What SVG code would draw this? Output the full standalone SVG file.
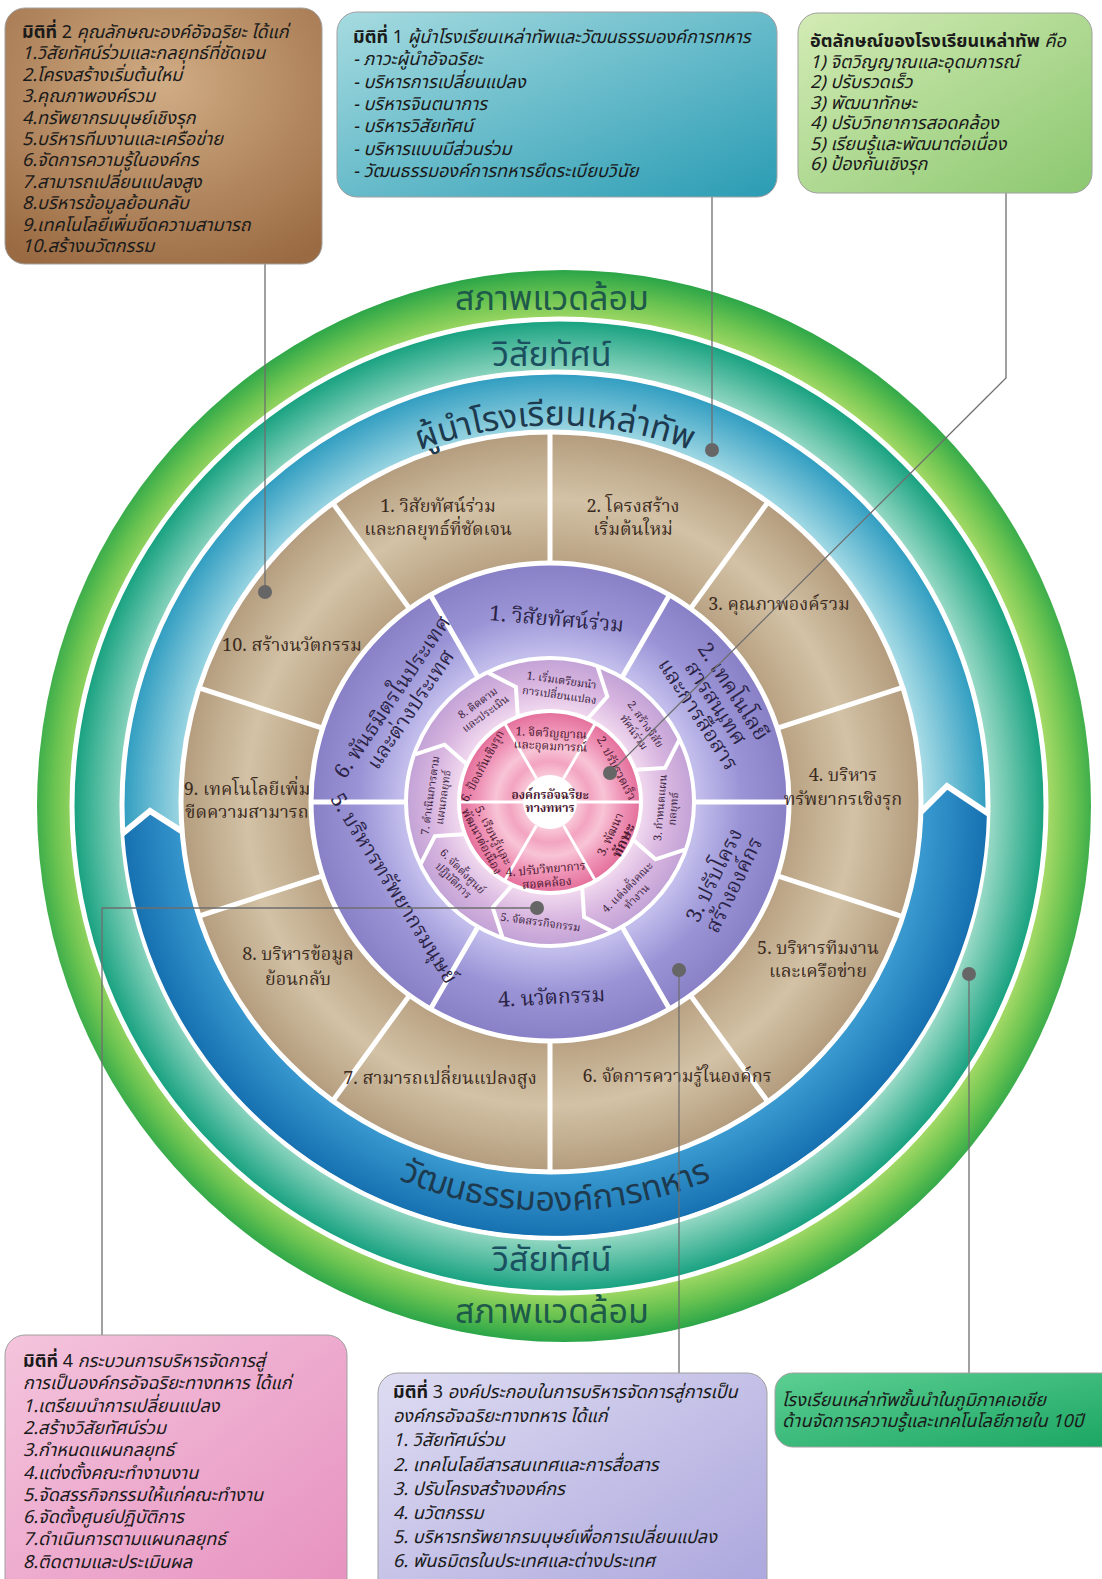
<svg xmlns="http://www.w3.org/2000/svg" width="1102" height="1579" viewBox="0 0 1102 1579">
<defs>
<style>
.bt{font-family:'Noto Sans Thai','Noto Sans','DejaVu Sans',sans-serif;font-size:18px;fill:#1a1a1a;font-style:italic}
.b{font-weight:bold;font-style:normal}
.n{font-style:normal}
.ring{font-family:'Noto Sans Thai','Noto Sans','DejaVu Sans',sans-serif;font-size:34px;text-anchor:middle}
.lb{font-family:'Noto Serif Thai','Noto Sans Thai','Liberation Serif',serif;font-size:18px;fill:#3b2b1e;text-anchor:middle}
.lp{font-family:'Noto Serif Thai','Noto Sans Thai','Liberation Serif',serif;font-size:21px;fill:#2b2346;text-anchor:middle}
.lk{font-family:'Noto Serif Thai','Noto Sans Thai','Liberation Serif',serif;font-size:11px;fill:#3a2340;text-anchor:middle}
.lc{font-family:'Noto Serif Thai','Noto Sans Thai','Liberation Serif',serif;font-size:12px;fill:#4a1830;text-anchor:middle}
.div{stroke:#fff;fill:none;stroke-linecap:butt}
.con{stroke:#6e6e6e;stroke-width:1.3;fill:none}
.dot{fill:#666}
.box{stroke:#a0a0a0;stroke-width:1}
</style>
<radialGradient id="gGreen" gradientUnits="userSpaceOnUse" cx="564" cy="806" r="536"><stop offset="0.9" stop-color="#a9db68"/><stop offset="0.95" stop-color="#6cc451"/><stop offset="1" stop-color="#2aa548"/></radialGradient>
<radialGradient id="gTeal" gradientUnits="userSpaceOnUse" cx="559" cy="806" r="487"><stop offset="0.88" stop-color="#9edcc8"/><stop offset="1" stop-color="#14a07e"/></radialGradient>
<radialGradient id="gBlueL" gradientUnits="userSpaceOnUse" cx="555" cy="805" r="433"><stop offset="0.85" stop-color="#a8dce6"/><stop offset="1" stop-color="#2e9cc0"/></radialGradient>
<radialGradient id="gBlueD" gradientUnits="userSpaceOnUse" cx="555" cy="805" r="433"><stop offset="0.85" stop-color="#3a9ad0"/><stop offset="1" stop-color="#1670b0"/></radialGradient>
<radialGradient id="gBrown" gradientUnits="userSpaceOnUse" cx="550" cy="802" r="370"><stop offset="0.65" stop-color="#b9a283"/><stop offset="0.82" stop-color="#d3c2a6"/><stop offset="1" stop-color="#b39c7d"/></radialGradient>
<radialGradient id="gPurple" gradientUnits="userSpaceOnUse" cx="550" cy="802" r="239"><stop offset="0.6" stop-color="#c6c2ee"/><stop offset="0.8" stop-color="#9a94d6"/><stop offset="1" stop-color="#8880c6"/></radialGradient>
<radialGradient id="gLpink" gradientUnits="userSpaceOnUse" cx="550" cy="802" r="144"><stop offset="0.62" stop-color="#f3dcf0"/><stop offset="0.82" stop-color="#d8b6e0"/><stop offset="1" stop-color="#c2a2d6"/></radialGradient>
<radialGradient id="gCore" gradientUnits="userSpaceOnUse" cx="550" cy="802" r="90"><stop offset="0" stop-color="#ffffff"/><stop offset="0.3" stop-color="#f9c8d8"/><stop offset="0.45" stop-color="#f3a4c0"/><stop offset="0.6" stop-color="#f8c4d6"/><stop offset="0.8" stop-color="#ef93b6"/><stop offset="1" stop-color="#e4709c"/></radialGradient>
<radialGradient id="gB2" cx="0.5" cy="0.3" r="0.8"><stop offset="0" stop-color="#d0ac84"/><stop offset="1" stop-color="#9a6a42"/></radialGradient>
<linearGradient id="gB1" x1="0" y1="0" x2="1" y2="1"><stop offset="0" stop-color="#a6dbe0"/><stop offset="1" stop-color="#2a9cb4"/></linearGradient>
<linearGradient id="gBid" x1="0" y1="0" x2="1" y2="1"><stop offset="0" stop-color="#d3ebb5"/><stop offset="1" stop-color="#8cc870"/></linearGradient>
<linearGradient id="gB4" x1="0" y1="0" x2="1" y2="1"><stop offset="0" stop-color="#f4c4dc"/><stop offset="1" stop-color="#e690bf"/></linearGradient>
<linearGradient id="gB3" x1="0" y1="0" x2="1" y2="1"><stop offset="0" stop-color="#dedcf2"/><stop offset="1" stop-color="#a9a4dc"/></linearGradient>
<linearGradient id="gBg" x1="0" y1="0" x2="1" y2="1"><stop offset="0" stop-color="#5ccf92"/><stop offset="1" stop-color="#1aa563"/></linearGradient>
<path id="arcTop" d="M264,561 A380,380 0 0 1 846,561"/>
<path id="arcBot" d="M204,1008 A405,405 0 0 0 906,1008"/>
</defs>
<rect width="1102" height="1579" fill="#fff"/>

<g id="rings">
<ellipse cx="564" cy="806" rx="527" ry="536" fill="url(#gGreen)"/>
<circle cx="559" cy="806" r="487" fill="url(#gTeal)" stroke="#fff" stroke-width="5"/>
<circle cx="555" cy="805" r="433" fill="url(#gBlueL)" stroke="#fff" stroke-width="5"/>
<path d="M124,832 L150,811 L184,832 L921,812 L947,786 L987,812 A432,432 0 0 1 124,832 Z" fill="url(#gBlueD)"/>
<polyline class="div" stroke-width="6" points="122,834 150,811 186,834"/>
<polyline class="div" stroke-width="6" points="919,814 947,786 989,814"/>
<circle cx="551" cy="802" r="370" fill="url(#gBrown)" stroke="#fff" stroke-width="5"/>
<circle cx="550" cy="802" r="239" fill="url(#gPurple)" stroke="#fff" stroke-width="5"/>
<circle cx="550" cy="802" r="144" fill="url(#gLpink)" stroke="#fff" stroke-width="4"/>
<circle cx="550" cy="802" r="91" fill="url(#gCore)" stroke="#fff" stroke-width="4"/>
<circle cx="550" cy="802" r="27" fill="#fff"/>
</g>

<g id="dividers">
<g stroke="#fff" stroke-width="5">
<line x1="550" y1="563" x2="550" y2="432"/>
<line x1="691.1" y1="607.8" x2="767.5" y2="502.7"/>
<line x1="778.3" y1="727.8" x2="901.9" y2="687.7"/>
<line x1="778.3" y1="876.2" x2="901.9" y2="916.3"/>
<line x1="691.1" y1="996.2" x2="767.5" y2="1101.3"/>
<line x1="550" y1="1042" x2="550" y2="1172"/>
<line x1="408.9" y1="996.2" x2="332.5" y2="1101.3"/>
<line x1="321.7" y1="876.2" x2="198.1" y2="916.3"/>
<line x1="321.7" y1="727.8" x2="198.1" y2="687.7"/>
<line x1="408.9" y1="607.8" x2="332.5" y2="502.7"/>
</g>
<g stroke="#fff" stroke-width="5">
<line x1="622.5" y1="676.4" x2="669.5" y2="595"/>
<line x1="695" y1="802" x2="789" y2="802"/>
<line x1="622.5" y1="927.6" x2="669.5" y2="1009"/>
<line x1="477.5" y1="927.6" x2="430.5" y2="1009"/>
<line x1="405" y1="802" x2="311" y2="802"/>
<line x1="477.5" y1="676.4" x2="430.5" y2="595"/>
</g>
<g class="div" stroke-width="4">
<polyline points="597.7,667.2 607.3,696.5 588.2,718.3"/>
<polyline points="679.1,740.4 665.1,767.9 636.2,769.8"/>
<polyline points="684.8,849.7 655.5,859.3 633.7,840.2"/>
<polyline points="611.6,931.1 584.1,917.1 582.2,888.2"/>
<polyline points="502.3,936.8 492.7,907.5 511.8,885.7"/>
<polyline points="420.9,863.6 434.9,836.1 463.8,834.2"/>
<polyline points="415.2,754.3 444.5,744.7 466.3,763.8"/>
<polyline points="488.4,672.9 515.9,686.9 517.8,715.8"/>
</g>
<g stroke="#fff" stroke-width="3">
<line x1="563.5" y1="778.6" x2="595" y2="724.1"/>
<line x1="577" y1="802" x2="640" y2="802"/>
<line x1="563.5" y1="825.4" x2="595" y2="879.9"/>
<line x1="536.5" y1="825.4" x2="505" y2="879.9"/>
<line x1="523" y1="802" x2="460" y2="802"/>
<line x1="536.5" y1="778.6" x2="505" y2="724.1"/>
</g>
</g>

<g id="ring-labels">
<text class="ring" x="552" y="310" fill="#1d5a4a">สภาพแวดล้อม</text>
<text class="ring" x="552" y="366" fill="#1a5060">วิสัยทัศน์</text>
<text class="ring" fill="#1d3a4f" font-size="36"><textPath href="#arcTop" startOffset="50%">ผู้นำโรงเรียนเหล่าทัพ</textPath></text>
<text class="ring" fill="#1d3a4f" font-size="36"><textPath href="#arcBot" startOffset="50%">วัฒนธรรมองค์การทหาร</textPath></text>
<text class="ring" x="552" y="1271" fill="#1a5060">วิสัยทัศน์</text>
<text class="ring" x="552" y="1323" fill="#1d5a4a">สภาพแวดล้อม</text>
</g>

<g id="brown-segments">
<text class="lb" x="438" y="512">1. วิสัยทัศน์ร่วม<tspan x="438" y="535">และกลยุทธ์ที่ชัดเจน</tspan></text>
<text class="lb" x="633" y="512">2. โครงสร้าง<tspan x="633" y="535">เริ่มต้นใหม่</tspan></text>
<text class="lb" x="779" y="610">3. คุณภาพองค์รวม</text>
<text class="lb" x="843" y="781">4. บริหาร<tspan x="843" y="805">ทรัพยากรเชิงรุก</tspan></text>
<text class="lb" x="818" y="954">5. บริหารทีมงาน<tspan x="818" y="977">และเครือข่าย</tspan></text>
<text class="lb" x="677" y="1082">6. จัดการความรู้ในองค์กร</text>
<text class="lb" x="440" y="1084">7. สามารถเปลี่ยนแปลงสูง</text>
<text class="lb" x="298" y="960">8. บริหารข้อมูล<tspan x="298" y="985">ย้อนกลับ</tspan></text>
<text class="lb" x="247" y="795">9. เทคโนโลยีเพิ่ม<tspan x="247" y="818">ขีดความสามารถ</tspan></text>
<text class="lb" x="292" y="651">10. สร้างนวัตกรรม</text>
</g>

<g id="purple-segments">
<text class="lp" transform="translate(556,626) rotate(5)">1. วิสัยทัศน์ร่วม</text>
<text class="lp" font-size="20" transform="translate(714,704) rotate(57)"><tspan x="0" y="-16">2. เทคโนโลยี</tspan><tspan x="0" y="5">สารสนเทศ</tspan><tspan x="0" y="26">และการสื่อสาร</tspan></text>
<text class="lp" font-size="22" transform="translate(724,880) rotate(-64)"><tspan x="0" y="-4">3. ปรับโครง</tspan><tspan x="0" y="18">สร้างองค์กร</tspan></text>
<text class="lp" transform="translate(552,1004) rotate(-3)">4. นวัตกรรม</text>
<text class="lp" font-size="20" transform="translate(388,892) rotate(58)">5. บริหารทรัพยากรมนุษย์</text>
<text class="lp" font-size="20" transform="translate(398,701) rotate(-56)"><tspan x="0" y="0">6. พันธมิตรในประเทศ</tspan><tspan x="0" y="22">และต่างประเทศ</tspan></text>
</g>

<g id="process-segments">
<text class="lk" transform="translate(561,684) rotate(8)"><tspan x="0" y="0">1. เริ่มเตรียมนำ</tspan><tspan x="0" y="15">การเปลี่ยนแปลง</tspan></text>
<text class="lk" transform="translate(640,728) rotate(55)"><tspan x="0" y="-3">2. สร้างวิสัย</tspan><tspan x="0" y="11">ทัศน์ร่วม</tspan></text>
<text class="lk" transform="translate(664,808) rotate(-85)"><tspan x="0" y="0">3. กำหนดแผน</tspan><tspan x="0" y="13">กลยุทธ์</tspan></text>
<text class="lk" transform="translate(630,890) rotate(-45)"><tspan x="0" y="0">4. แต่งตั้งคณะ</tspan><tspan x="0" y="13">ทำงาน</tspan></text>
<text class="lk" transform="translate(540,926) rotate(8)">5. จัดสรรกิจกรรม</text>
<text class="lk" transform="translate(460,874) rotate(45)"><tspan x="0" y="0">6. จัดตั้งศูนย์</tspan><tspan x="0" y="13">ปฏิบัติการ</tspan></text>
<text class="lk" transform="translate(434,796) rotate(-82)"><tspan x="0" y="0">7. ดำเนินการตาม</tspan><tspan x="0" y="13">แผนกลยุทธ์</tspan></text>
<text class="lk" transform="translate(480,706) rotate(-36)"><tspan x="0" y="0">8. ติดตาม</tspan><tspan x="0" y="13">และประเมิน</tspan></text>
</g>

<g id="core-segments">
<text class="lc" transform="translate(551,737) rotate(3)"><tspan x="0" y="0">1. จิตวิญญาณ</tspan><tspan x="0" y="13">และอุดมการณ์</tspan></text>
<text class="lc" transform="translate(613,770) rotate(62)">2. ปรับรวดเร็ว</text>
<text class="lc" transform="translate(614,836) rotate(-65)"><tspan x="0" y="0">3. พัฒนา</tspan><tspan x="0" y="15" font-size="14" font-weight="bold">ทักษะ</tspan></text>
<text class="lc" transform="translate(546,873) rotate(-5)"><tspan x="0" y="0">4. ปรับวิทยาการ</tspan><tspan x="0" y="14">สอดคล้อง</tspan></text>
<text class="lc" font-size="11" transform="translate(488,838) rotate(62)"><tspan x="0" y="-2">5. เรียนรู้และ</tspan><tspan x="0" y="11">พัฒนาต่อเนื่อง</tspan></text>
<text class="lc" transform="translate(486,768) rotate(-62)">6. ป้องกันเชิงรุก</text>
<text class="lc" font-size="9.5" font-weight="bold" fill="#222" x="550" y="799">องค์กรอัจฉริยะ<tspan x="550" y="812">ทางทหาร</tspan></text>
</g>

<g id="connectors">
<polyline class="con" points="265,264 265,592"/>
<polyline class="con" points="712,197 712,450"/>
<polyline class="con" points="1006,193 1006,378 610,773"/>
<polyline class="con" points="102,1335 102,908 537,908"/>
<polyline class="con" points="679,1373 679,970"/>
<polyline class="con" points="969,1373 969,974"/>
<circle class="dot" cx="265" cy="592" r="7"/>
<circle class="dot" cx="712" cy="450" r="7"/>
<circle class="dot" cx="610" cy="773" r="7"/>
<circle class="dot" cx="537" cy="908" r="7"/>
<circle class="dot" cx="679" cy="970" r="7"/>
<circle class="dot" cx="969" cy="974" r="7"/>
</g>

<g id="box-dim2">
<rect class="box" x="5" y="8" width="317" height="256" rx="20" fill="url(#gB2)"/>
<text class="bt" x="22" y="38"><tspan class="b">มิติที่</tspan><tspan class="n"> 2 </tspan>คุณลักษณะองค์อัจฉริยะ ได้แก่</text>
<text class="bt" x="22" y="59.4">1.วิสัยทัศน์ร่วมและกลยุทธ์ที่ชัดเจน</text>
<text class="bt" x="22" y="80.8">2.โครงสร้างเริ่มต้นใหม่</text>
<text class="bt" x="22" y="102.2">3.คุณภาพองค์รวม</text>
<text class="bt" x="22" y="123.6">4.ทรัพยากรมนุษย์เชิงรุก</text>
<text class="bt" x="22" y="145">5.บริหารทีมงานและเครือข่าย</text>
<text class="bt" x="22" y="166.4">6.จัดการความรู้ในองค์กร</text>
<text class="bt" x="22" y="187.8">7.สามารถเปลี่ยนแปลงสูง</text>
<text class="bt" x="22" y="209.2">8.บริหารข้อมูลย้อนกลับ</text>
<text class="bt" x="22" y="230.6">9.เทคโนโลยีเพิ่มขีดความสามารถ</text>
<text class="bt" x="22" y="252">10.สร้างนวัตกรรม</text>
</g>

<g id="box-dim1">
<rect class="box" x="337" y="12" width="440" height="185" rx="20" fill="url(#gB1)"/>
<text class="bt" x="353" y="43"><tspan class="b">มิติที่</tspan><tspan class="n"> 1 </tspan>ผู้นำโรงเรียนเหล่าทัพและวัฒนธรรมองค์การทหาร</text>
<text class="bt" x="353" y="65.3">- ภาวะผู้นำอัจฉริยะ</text>
<text class="bt" x="353" y="87.6">- บริหารการเปลี่ยนแปลง</text>
<text class="bt" x="353" y="110">- บริหารจินตนาการ</text>
<text class="bt" x="353" y="132.3">- บริหารวิสัยทัศน์</text>
<text class="bt" x="353" y="154.6">- บริหารแบบมีส่วนร่วม</text>
<text class="bt" x="353" y="177">- วัฒนธรรมองค์การทหารยึดระเบียบวินัย</text>
</g>

<g id="box-identity">
<rect class="box" x="798" y="13" width="294" height="180" rx="20" fill="url(#gBid)"/>
<text class="bt" x="810" y="47"><tspan class="b">อัตลักษณ์ของโรงเรียนเหล่าทัพ</tspan> คือ</text>
<text class="bt" x="810" y="67.5">1) จิตวิญญาณและอุดมการณ์</text>
<text class="bt" x="810" y="88">2) ปรับรวดเร็ว</text>
<text class="bt" x="810" y="108.5">3) พัฒนาทักษะ</text>
<text class="bt" x="810" y="129">4) ปรับวิทยาการสอดคล้อง</text>
<text class="bt" x="810" y="149.5">5) เรียนรู้และพัฒนาต่อเนื่อง</text>
<text class="bt" x="810" y="170">6) ป้องกันเชิงรุก</text>
</g>

<g id="box-dim4">
<rect class="box" x="5" y="1335" width="342" height="270" rx="20" fill="url(#gB4)"/>
<text class="bt" x="23" y="1367"><tspan class="b">มิติที่</tspan><tspan class="n"> 4 </tspan>กระบวนการบริหารจัดการสู่</text>
<text class="bt" x="23" y="1389.3">การเป็นองค์กรอัจฉริยะทางทหาร ได้แก่</text>
<text class="bt" x="23" y="1411.6">1.เตรียมนำการเปลี่ยนแปลง</text>
<text class="bt" x="23" y="1433.9">2.สร้างวิสัยทัศน์ร่วม</text>
<text class="bt" x="23" y="1456.2">3.กำหนดแผนกลยุทธ์</text>
<text class="bt" x="23" y="1478.5">4.แต่งตั้งคณะทำงานงาน</text>
<text class="bt" x="23" y="1500.8">5.จัดสรรกิจกรรมให้แก่คณะทำงาน</text>
<text class="bt" x="23" y="1523.1">6.จัดตั้งศูนย์ปฏิบัติการ</text>
<text class="bt" x="23" y="1545.4">7.ดำเนินการตามแผนกลยุทธ์</text>
<text class="bt" x="23" y="1567.7">8.ติดตามและประเมินผล</text>
</g>

<g id="box-dim3">
<rect class="box" x="378" y="1373" width="389" height="240" rx="20" fill="url(#gB3)"/>
<text class="bt" x="393" y="1398"><tspan class="b">มิติที่</tspan><tspan class="n"> 3 </tspan>องค์ประกอบในการบริหารจัดการสู่การเป็น</text>
<text class="bt" x="393" y="1422">องค์กรอัจฉริยะทางทหาร ได้แก่</text>
<text class="bt" x="393" y="1446">1. วิสัยทัศน์ร่วม</text>
<text class="bt" x="393" y="1470.5">2. เทคโนโลยีสารสนเทศและการสื่อสาร</text>
<text class="bt" x="393" y="1494.5">3. ปรับโครงสร้างองค์กร</text>
<text class="bt" x="393" y="1518.5">4. นวัตกรรม</text>
<text class="bt" x="393" y="1542.5">5. บริหารทรัพยากรมนุษย์เพื่อการเปลี่ยนแปลง</text>
<text class="bt" x="393" y="1567">6. พันธมิตรในประเทศและต่างประเทศ</text>
</g>

<g id="box-vision">
<rect class="box" x="775" y="1373" width="345" height="74" rx="18" fill="url(#gBg)"/>
<text class="bt" x="782" y="1406">โรงเรียนเหล่าทัพชั้นนำในภูมิภาคเอเชีย</text>
<text class="bt" x="782" y="1427">ด้านจัดการความรู้และเทคโนโลยีภายใน 10ปี</text>
</g>
</svg>
